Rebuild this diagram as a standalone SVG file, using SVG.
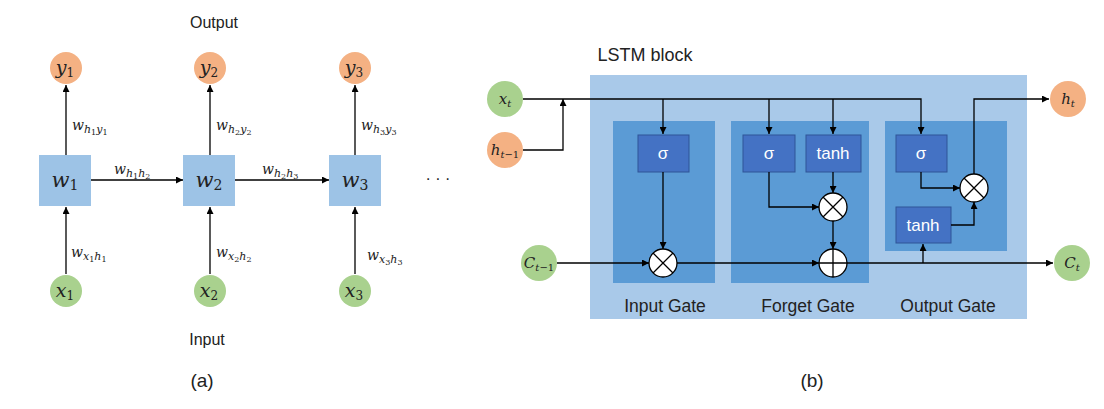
<svg xmlns="http://www.w3.org/2000/svg" width="1104" height="409" viewBox="0 0 1104 409">
<style>
.ln{fill:none;stroke:#000;stroke-width:1.3}
.lbl{font-family:"Liberation Sans",Arial,sans-serif;fill:#222}
.m{font-family:"DejaVu Serif","Liberation Serif",serif;font-style:italic;fill:#222}
.d{font-style:normal}
.or{fill:#f4b183}
.gr{fill:#a9d18e}
.wb{fill:#9dc3e6}
.blk{fill:#a9c9e9}
.gate{fill:#5b9bd5}
.fn{fill:#4472c4;stroke:#2f5597;stroke-width:1}
.fnt{font-family:"Liberation Sans",Arial,sans-serif;fill:#fff;font-size:17px;text-anchor:middle}
.op{fill:#fff;stroke:#000;stroke-width:1.3}
</style>
<defs>
<marker id="ah" viewBox="0 0 10 10" refX="10" refY="5" markerWidth="7" markerHeight="7" orient="auto" markerUnits="userSpaceOnUse">
<path d="M0,0 L10,5 L0,10 z" fill="#000"/>
</marker>
</defs>
<rect width="1104" height="409" fill="#fff"/>

<!-- (a) RNN -->
<g id="connectors-a" class="ln">
<path d="M66,155 V85" marker-end="url(#ah)"/>
<path d="M210,155 V85" marker-end="url(#ah)"/>
<path d="M355,155 V85" marker-end="url(#ah)"/>
<path d="M66,274 V207" marker-end="url(#ah)"/>
<path d="M210,274 V207" marker-end="url(#ah)"/>
<path d="M355,274 V207" marker-end="url(#ah)"/>
<path d="M91,180 H183" marker-end="url(#ah)"/>
<path d="M235,180 H329" marker-end="url(#ah)"/>
</g>
<g id="y1"><circle class="or" cx="66" cy="68" r="16"/><text class="m" x="65" y="74" font-size="19" text-anchor="middle">y<tspan class="d" font-size="12" dy="3">1</tspan></text></g>
<g id="y2"><circle class="or" cx="210" cy="68" r="16"/><text class="m" x="209" y="74" font-size="19" text-anchor="middle">y<tspan class="d" font-size="12" dy="3">2</tspan></text></g>
<g id="y3"><circle class="or" cx="355" cy="68" r="16"/><text class="m" x="354" y="74" font-size="19" text-anchor="middle">y<tspan class="d" font-size="12" dy="3">3</tspan></text></g>
<g id="w1"><rect class="wb" x="39" y="155" width="52" height="51"/><text class="m" x="65" y="187" font-size="21" text-anchor="middle">w<tspan class="d" font-size="14" dy="3">1</tspan></text></g>
<g id="w2"><rect class="wb" x="183" y="155" width="52" height="51"/><text class="m" x="209" y="187" font-size="21" text-anchor="middle">w<tspan class="d" font-size="14" dy="3">2</tspan></text></g>
<g id="w3"><rect class="wb" x="329" y="155" width="52" height="51"/><text class="m" x="355" y="187" font-size="21" text-anchor="middle">w<tspan class="d" font-size="14" dy="3">3</tspan></text></g>
<g id="x1"><circle class="gr" cx="66" cy="291" r="16"/><text class="m" x="65" y="297" font-size="19" text-anchor="middle">x<tspan class="d" font-size="12" dy="3">1</tspan></text></g>
<g id="x2"><circle class="gr" cx="210" cy="291" r="16"/><text class="m" x="209" y="297" font-size="19" text-anchor="middle">x<tspan class="d" font-size="12" dy="3">2</tspan></text></g>
<g id="x3"><circle class="gr" cx="355" cy="291" r="16"/><text class="m" x="354" y="297" font-size="19" text-anchor="middle">x<tspan class="d" font-size="12" dy="3">3</tspan></text></g>

<g id="weight-labels">
<text class="m" x="72" y="130" font-size="14">w<tspan font-size="11" dy="3">h</tspan><tspan class="d" font-size="8" dy="2">1</tspan><tspan font-size="11" dy="-2">y</tspan><tspan class="d" font-size="8" dy="2">1</tspan></text>
<text class="m" x="216" y="130" font-size="14">w<tspan font-size="11" dy="3">h</tspan><tspan class="d" font-size="8" dy="2">2</tspan><tspan font-size="11" dy="-2">y</tspan><tspan class="d" font-size="8" dy="2">2</tspan></text>
<text class="m" x="361" y="130" font-size="14">w<tspan font-size="11" dy="3">h</tspan><tspan class="d" font-size="8" dy="2">3</tspan><tspan font-size="11" dy="-2">y</tspan><tspan class="d" font-size="8" dy="2">3</tspan></text>
<text class="m" x="114" y="174" font-size="14">w<tspan font-size="11" dy="3">h</tspan><tspan class="d" font-size="8" dy="2">1</tspan><tspan font-size="11" dy="-2">h</tspan><tspan class="d" font-size="8" dy="2">2</tspan></text>
<text class="m" x="262" y="174" font-size="14">w<tspan font-size="11" dy="3">h</tspan><tspan class="d" font-size="8" dy="2">2</tspan><tspan font-size="11" dy="-2">h</tspan><tspan class="d" font-size="8" dy="2">3</tspan></text>
<text class="m" x="71" y="257" font-size="14">w<tspan font-size="11" dy="3">x</tspan><tspan class="d" font-size="8" dy="2">1</tspan><tspan font-size="11" dy="-2">h</tspan><tspan class="d" font-size="8" dy="2">1</tspan></text>
<text class="m" x="216" y="257" font-size="14">w<tspan font-size="11" dy="3">x</tspan><tspan class="d" font-size="8" dy="2">2</tspan><tspan font-size="11" dy="-2">h</tspan><tspan class="d" font-size="8" dy="2">2</tspan></text>
<text class="m" x="367" y="260" font-size="14">w<tspan font-size="11" dy="3">x</tspan><tspan class="d" font-size="8" dy="2">3</tspan><tspan font-size="11" dy="-2">h</tspan><tspan class="d" font-size="8" dy="2">3</tspan></text>
</g>
<text class="lbl" x="438" y="184" font-size="16" text-anchor="middle">· · ·</text>
<text class="lbl" x="214" y="28" font-size="16" text-anchor="middle">Output</text>
<text class="lbl" x="207" y="345" font-size="16" text-anchor="middle">Input</text>
<text class="lbl" x="202" y="387" font-size="19" text-anchor="middle">(a)</text>

<!-- (b) LSTM -->
<g id="lstm-block"><rect class="blk" x="590" y="75" width="437" height="244"/><text class="lbl" x="645" y="61" font-size="18" text-anchor="middle">LSTM block</text></g>
<g id="input-gate"><rect class="gate" x="613" y="121" width="102" height="162"/><text class="lbl" x="665" y="312" font-size="17.5" text-anchor="middle">Input Gate</text></g>
<g id="forget-gate"><rect class="gate" x="731" y="121" width="138" height="162"/><text class="lbl" x="808" y="312" font-size="17.5" text-anchor="middle">Forget Gate</text></g>
<g id="output-gate"><rect class="gate" x="885" y="121" width="122" height="130"/><text class="lbl" x="948" y="312" font-size="17.5" text-anchor="middle">Output Gate</text></g>

<g id="in-sigma"><rect class="fn" x="638" y="135" width="51" height="37"/><text class="fnt" x="663" y="159">σ</text></g>
<g id="fg-sigma"><rect class="fn" x="743" y="135" width="52" height="37"/><text class="fnt" x="769" y="159">σ</text></g>
<g id="fg-tanh"><rect class="fn" x="806" y="135" width="55" height="37"/><text class="fnt" x="833" y="159">tanh</text></g>
<g id="out-sigma"><rect class="fn" x="896" y="135" width="51" height="37"/><text class="fnt" x="921" y="159">σ</text></g>
<g id="out-tanh"><rect class="fn" x="896" y="207" width="55" height="36"/><text class="fnt" x="923" y="231">tanh</text></g>

<g id="connectors-b" class="ln">
<path d="M523,99 H921 V134" marker-end="url(#ah)"/>
<path d="M663,99 V134" marker-end="url(#ah)"/>
<path d="M769,99 V134" marker-end="url(#ah)"/>
<path d="M833,99 V134" marker-end="url(#ah)"/>
<path d="M523,150 H563 V99" marker-end="url(#ah)"/>
<path d="M663,172 V249" marker-end="url(#ah)"/>
<path d="M557,263 H649" marker-end="url(#ah)"/>
<path d="M677,263 H819" marker-end="url(#ah)"/>
<path d="M847,263 H1053" marker-end="url(#ah)"/>
<path d="M923,263 V244" marker-end="url(#ah)"/>
<path d="M769,172 V207 H819" marker-end="url(#ah)"/>
<path d="M833,172 V193" marker-end="url(#ah)"/>
<path d="M833,221 V249" marker-end="url(#ah)"/>
<path d="M921,172 V188 H960" marker-end="url(#ah)"/>
<path d="M951,225 H974 V202" marker-end="url(#ah)"/>
<path d="M974,174 V99 H1049" marker-end="url(#ah)"/>
</g>

<g id="in-mult"><circle class="op" cx="663" cy="263" r="14"/><path class="ln" d="M653,253 L673,273 M673,253 L653,273"/></g>
<g id="fg-mult"><circle class="op" cx="833" cy="207" r="14"/><path class="ln" d="M823,197 L843,217 M843,197 L823,217"/></g>
<g id="fg-plus"><circle class="op" cx="833" cy="263" r="14"/><path class="ln" d="M819,263 H847 M833,249 V277"/></g>
<g id="out-mult"><circle class="op" cx="974" cy="188" r="14"/><path class="ln" d="M964,178 L984,198 M984,178 L964,198"/></g>

<g id="xt"><circle class="gr" cx="505" cy="99" r="18"/><text class="m" x="505" y="104" font-size="15" text-anchor="middle">x<tspan font-size="10" dy="3">t</tspan></text></g>
<g id="ht-1"><circle class="or" cx="505" cy="150" r="18"/><text class="m" x="505" y="155" font-size="15" text-anchor="middle">h<tspan font-size="10" dy="3">t</tspan><tspan class="d" font-size="10">−1</tspan></text></g>
<g id="ct-1"><circle class="gr" cx="539" cy="263" r="18"/><text class="m" x="539" y="268" font-size="15" text-anchor="middle">C<tspan font-size="10" dy="3">t</tspan><tspan class="d" font-size="10">−1</tspan></text></g>
<g id="ht"><circle class="or" cx="1068" cy="99" r="18"/><text class="m" x="1068" y="104" font-size="15" text-anchor="middle">h<tspan font-size="10" dy="3">t</tspan></text></g>
<g id="ct"><circle class="gr" cx="1072" cy="263" r="18"/><text class="m" x="1072" y="268" font-size="15" text-anchor="middle">C<tspan font-size="10" dy="3">t</tspan></text></g>

<text class="lbl" x="812" y="387" font-size="19" text-anchor="middle">(b)</text>
</svg>
